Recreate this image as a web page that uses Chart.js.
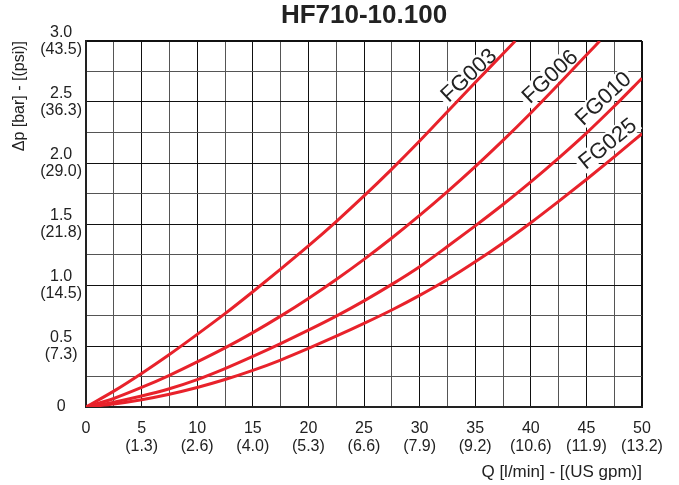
<!DOCTYPE html>
<html>
<head>
<meta charset="utf-8">
<script src="https://cdn.jsdelivr.net/npm/chart.js@4.4.0/dist/chart.umd.min.js"></script>
<style>
  html, body { margin: 0; padding: 0; background: #fff; }
  #wrap { width: 679px; height: 485px; }
</style>
</head>
<body>
<div id="wrap"><canvas id="c"></canvas></div>
<script>
// values
var chartTitle = 'HF710-10.100';
var xTitle = 'Q [l/min] - [(US gpm)]';
var yTitle = '\u0394p [bar] - [(psi)]';

var q003 = [0, 2.5, 5, 7.5, 10, 12.5, 15, 17.5, 20, 22.5, 25, 27.5, 30, 32.5, 35, 37.5, 38.6];
var dp003 = [0, 0.13, 0.275, 0.43, 0.595, 0.765, 0.945, 1.13, 1.32, 1.52, 1.73, 1.95, 2.18, 2.42, 2.66, 2.895, 3.0];

var q006 = [0, 2.5, 5, 7.5, 10, 12.5, 15, 17.5, 20, 22.5, 25, 27.5, 30, 32.5, 35, 37.5, 40, 42.5, 45, 46.2];
var dp006 = [0, 0.07, 0.16, 0.26, 0.37, 0.485, 0.61, 0.745, 0.89, 1.045, 1.21, 1.385, 1.57, 1.765, 1.97, 2.185, 2.41, 2.645, 2.885, 3.0];

var q010 = [0, 2.5, 5, 7.5, 10, 12.5, 15, 17.5, 20, 22.5, 25, 27.5, 30, 32.5, 35, 37.5, 40, 42.5, 45, 47.5, 50];
var dp010 = [0, 0.04, 0.09, 0.15, 0.225, 0.315, 0.415, 0.52, 0.63, 0.745, 0.87, 1.005, 1.15, 1.315, 1.485, 1.66, 1.845, 2.04, 2.245, 2.465, 2.695];

var q025 = [0, 2.5, 5, 7.5, 10, 12.5, 15, 17.5, 20, 22.5, 25, 27.5, 30, 32.5, 35, 37.5, 40, 42.5, 45, 47.5, 50];
var dp025 = [0, 0.025, 0.06, 0.105, 0.16, 0.225, 0.30, 0.385, 0.48, 0.58, 0.685, 0.795, 0.915, 1.045, 1.19, 1.345, 1.51, 1.685, 1.865, 2.05, 2.24];

var seriesNames = ['FG003', 'FG006', 'FG010', 'FG025'];
// label centre (in data units) and angle for each curve name
var labelQ = [34.4, 41.7, 46.5, 46.9];
var labelDp = [2.72, 2.71, 2.53, 2.16];
var labelAngle = [-43, -43, -43, -39];

var xTickBar = [0, 5, 10, 15, 20, 25, 30, 35, 40, 45, 50];
var xTickGpm = ['', '1.3', '2.6', '4.0', '5.3', '6.6', '7.9', '9.2', '10.6', '11.9', '13.2'];
var yTickBar = [0, 0.5, 1.0, 1.5, 2.0, 2.5, 3.0];
var yTickPsi = ['', '7.3', '14.5', '21.8', '29.0', '36.3', '43.5'];

var RED = '#e8222b';
var FONT = "'Liberation Sans', Arial, sans-serif";

function pts(qs, ds) {
  return qs.map(function (q, i) { return { x: q, y: ds[i] }; });
}

function curve(qs, ds) {
  return {
    data: pts(qs, ds),
    showLine: true,
    borderColor: RED,
    borderWidth: 3,
    pointRadius: 0,
    cubicInterpolationMode: 'monotone',
    fill: false
  };
}

function gridColor(ctx, major) {
  var v = ctx.tick ? ctx.tick.value : 0;
  return Math.abs(v / major - Math.round(v / major)) < 1e-6 ? '#111' : '#555';
}

var titlePlugin = {
  id: 'topTitle',
  afterDraw: function (chart) {
    var ctx = chart.ctx, a = chart.chartArea;
    ctx.save();
    ctx.font = 'bold 26px ' + FONT;
    ctx.fillStyle = '#222';
    ctx.textAlign = 'center';
    ctx.textBaseline = 'middle';
    ctx.fillText(chartTitle, (a.left + a.right) / 2, 16);
    ctx.restore();
  }
};

var namePlugin = {
  id: 'curveNames',
  beforeDatasetsDraw: function (chart) {
    var ctx = chart.ctx, xs = chart.scales.x, ys = chart.scales.y;
    ctx.save();
    ctx.font = '22px ' + FONT;
    ctx.textAlign = 'center';
    ctx.textBaseline = 'middle';
    seriesNames.forEach(function (name, i) {
      var px = xs.getPixelForValue(labelQ[i]);
      var py = ys.getPixelForValue(labelDp[i]);
      var w = ctx.measureText(name).width;
      ctx.save();
      ctx.translate(px, py);
      ctx.rotate(labelAngle[i] * Math.PI / 180);
      ctx.fillStyle = '#fff';
      ctx.fillRect(-w / 2 - 3, -10, w + 6, 20);
      ctx.fillStyle = '#222';
      ctx.fillText(name, 0, 1);
      ctx.restore();
    });
    ctx.restore();
  }
};

new Chart(document.getElementById('c'), {
  type: 'scatter',
  data: {
    datasets: [
      curve(q003, dp003),
      curve(q006, dp006),
      curve(q010, dp010),
      curve(q025, dp025)
    ]
  },
  options: {
    responsive: true,
    maintainAspectRatio: false,
    animation: false,
    layout: { padding: { top: 41, right: 37, left: 0, bottom: 0 } },
    plugins: {
      legend: { display: false },
      tooltip: { enabled: false }
    },
    scales: {
      x: {
        type: 'linear',
        min: 0, max: 50,
        afterFit: function (s) { s.height = 78; },
        border: { display: true, color: '#222', width: 2 },
        grid: {
          drawTicks: false,
          color: function (c) { return gridColor(c, 5); },
          lineWidth: function (c) { return c.tick && c.tick.value === 50 ? 2 : 1; }
        },
        ticks: {
          stepSize: 2.5,
          autoSkip: false,
          maxRotation: 0,
          padding: 13,
          color: '#222',
          font: { family: FONT, size: 16, lineHeight: 1.12 },
          callback: function (v) {
            var i = xTickBar.indexOf(v);
            if (i < 0) return '';
            if (i === 0) return '0';
            return [String(v), '(' + xTickGpm[i] + ')'];
          }
        },
        title: {
          display: true,
          text: xTitle,
          align: 'end',
          color: '#222',
          font: { family: FONT, size: 17 },
          padding: { top: 2, bottom: 2 }
        }
      },
      y: {
        type: 'linear',
        min: 0, max: 3,
        afterFit: function (s) { s.width = 86; },
        border: { display: true, color: '#222', width: 2 },
        grid: {
          drawTicks: false,
          color: function (c) { return gridColor(c, 0.5); },
          lineWidth: function (c) { return c.tick && c.tick.value === 3 ? 2 : 1; }
        },
        ticks: {
          stepSize: 0.25,
          autoSkip: false,
          padding: 4,
          crossAlign: 'center',
          color: '#222',
          font: { family: FONT, size: 16, lineHeight: 1.07 },
          callback: function (v) {
            var i = yTickBar.indexOf(v);
            if (i < 0) return '';
            if (i === 0) return '0';
            return [v.toFixed(1), '(' + yTickPsi[i] + ')'];
          }
        },
        title: {
          display: true,
          text: yTitle,
          align: 'end',
          color: '#222',
          font: { family: FONT, size: 16 },
          padding: { top: 10, bottom: 0 }
        }
      }
    }
  },
  plugins: [namePlugin, titlePlugin]
});
</script>
</body>
</html>
